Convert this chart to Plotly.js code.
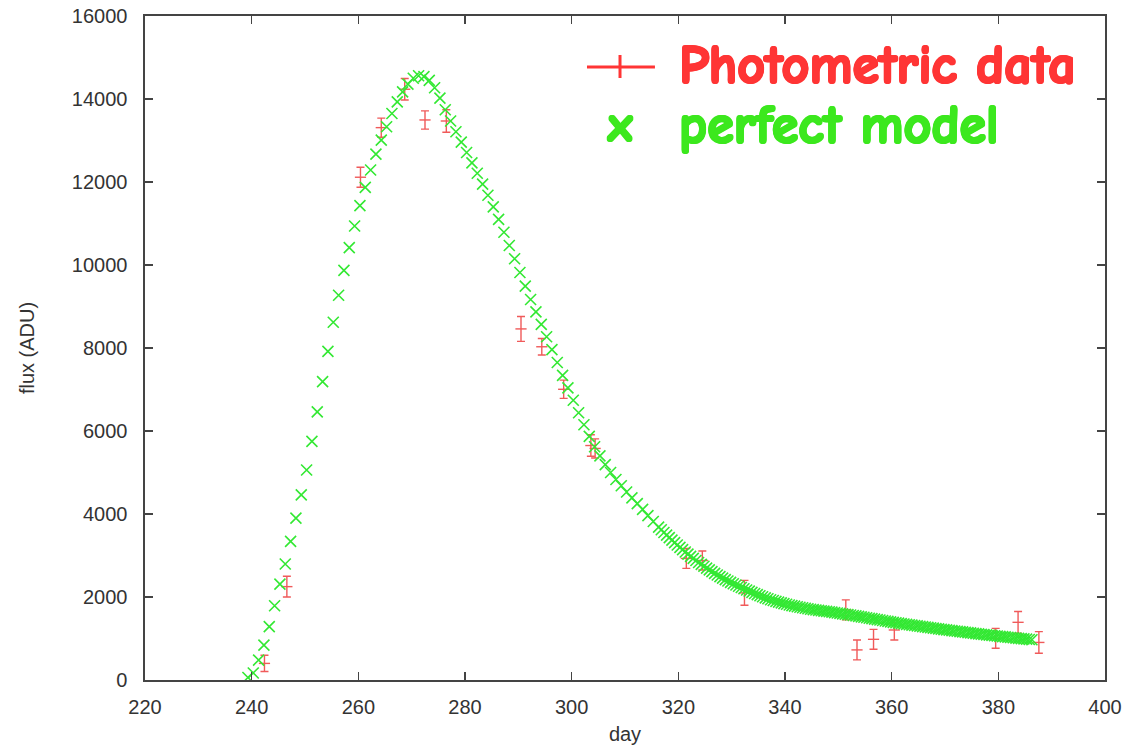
<!DOCTYPE html>
<html>
<head>
<meta charset="utf-8">
<script src="https://cdn.plot.ly/plotly-3.0.1.min.js"></script>
<style>html,body{margin:0;padding:0;background:#fff;}#chart{width:1142px;height:748px;}</style>
</head>
<body>
<div id="chart"></div>
<script>
// Photometric data (day, flux, error)
const dataDay  = [242.4, 246.6, 260.4, 264.3, 268.7, 272.5, 276.5, 290.5, 294.4, 298.5, 303.6, 304.4, 321.5, 324.5, 332.4, 351.4, 353.5, 356.6, 360.5, 379.5, 383.7, 387.6];
const dataFlux = [400, 2250, 12115, 13310, 14235, 13495, 13470, 8460, 8030, 7005, 5650, 5580, 2930, 2880, 2100, 1690, 725, 980, 1205, 1005, 1390, 905];
const dataErr  = [195, 250, 240, 230, 260, 220, 270, 300, 200, 220, 260, 230, 240, 230, 300, 240, 240, 240, 240, 240, 260, 260];

// Perfect model samples
const modelDay = [
239.3,240.3,241.3,242.3,243.3,244.3,245.3,246.3,247.3,248.3,249.3,250.3,251.3,252.3,253.3,254.3,255.3,256.3,257.3,258.3,259.3,
260.3,261.3,262.3,263.3,264.3,265.3,266.3,267.3,268.3,269.3,270.3,271.3,272.3,273.3,274.3,275.3,276.3,277.3,278.3,279.3,
280.3,281.3,282.3,283.3,284.3,285.3,286.3,287.3,288.3,289.3,290.3,291.3,292.3,293.3,294.3,295.3,296.3,297.3,298.3,299.3,
300.3,301.3,302.3,303.3,304.3,305.3,306.3,307.3,308.3,309.3,310.3,311.3,312.3,313.3,314.3,315.3,
316.3,316.8,317.3,317.8,318.3,318.8,319.3,319.8,320.3,320.8,321.3,321.8,322.3,322.8,323.3,323.8,324.3,324.8,325.3,325.8,
326.3,326.8,327.3,327.8,328.3,328.8,329.3,329.8,330.3,330.8,331.3,331.8,332.3,332.8,333.3,333.8,334.3,334.8,335.3,335.8,
336.3,336.8,337.3,337.8,338.3,338.8,339.3,339.8,340.3,340.8,341.3,341.8,342.3,342.8,343.3,343.8,344.3,344.8,345.3,345.8,
346.3,346.8,347.3,347.8,348.3,348.8,349.3,349.8,350.3,350.8,351.3,351.8,352.3,352.8,353.3,353.8,354.3,354.8,355.3,355.8,
356.3,356.8,357.3,357.8,358.3,358.8,359.3,359.8,360.3,360.8,361.3,361.8,362.3,362.8,363.3,363.8,364.3,364.8,365.3,365.8,
366.3,366.8,367.3,367.8,368.3,368.8,369.3,369.8,370.3,370.8,371.3,371.8,372.3,372.8,373.3,373.8,374.3,374.8,375.3,375.8,
376.3,376.8,377.3,377.8,378.3,378.8,379.3,379.8,380.3,380.8,381.3,381.8,382.3,382.8,383.3,383.8,384.3,384.8,385.3,385.8,
386.3];
const modelFlux = [
60,170,480,840,1285,1790,2310,2795,3340,3900,4460,5060,5750,6460,7190,7920,8620,9270,9870,10420,10940,
11430,11870,12290,12670,13010,13330,13650,13930,14170,14360,14500,14560,14540,14450,14270,14020,13740,13470,13210,12960,
12710,12460,12210,11950,11680,11400,11100,10790,10470,10150,9820,9490,9170,8870,8570,8270,7960,7650,7340,7040,
6740,6440,6150,5870,5620,5400,5190,5000,4830,4680,4530,4390,4250,4110,3960,3820,
3685,3620,3555,3492,3430,3370,3310,3252,3195,3140,3085,3032,2980,2930,2880,2832,2785,2740,2695,2652,
2610,2570,2530,2492,2455,2420,2385,2352,2320,2289,2258,2228,2198,2169,2140,2112,2084,2057,2030,2005,
1980,1957,1935,1915,1895,1876,1858,1841,1824,1808,1793,1779,1765,1752,1740,1728,1717,1706,1696,1686,
1677,1668,1659,1652,1645,1635,1625,1615,1605,1595,1585,1575,1565,1554,1544,1533,1522,1511,1500,1489,
1478,1467,1456,1445,1434,1423,1412,1401,1390,1380,1370,1360,1350,1340,1331,1321,1312,1303,1294,1285,
1276,1267,1258,1250,1241,1232,1224,1215,1207,1199,1190,1182,1174,1166,1158,1150,1142,1134,1126,1119,
1111,1103,1096,1088,1081,1074,1066,1059,1052,1045,1038,1031,1024,1017,1010,1004,997,990,984,977,
970];

const xTicks = [220, 240, 260, 280, 300, 320, 340, 360, 380, 400];
const yTicks = [0, 2000, 4000, 6000, 8000, 10000, 12000, 14000, 16000];
const legendLabels = ['Photometric data', 'perfect model'];

const redBar = '#f05a5a';
const green = '#33e833';
const legendRed = '#ff3535';
const legendGreen = '#3ce81e';
const frame = '#444444';

function fauxBold(c) {
  return '1px 0 0 ' + c + ', -1px 0 0 ' + c + ', 0 1px 0 ' + c + ', 0 -1px 0 ' + c +
         ', 1px 1px 0 ' + c + ', -1px -1px 0 ' + c + ', 1px -1px 0 ' + c + ', -1px 1px 0 ' + c;
}

const traces = [
  {
    x: dataDay, y: dataFlux, type: 'scatter', mode: 'markers', name: legendLabels[0],
    marker: {symbol: 'line-ew', size: 8, color: redBar, line: {width: 1.4, color: redBar}},
    error_y: {type: 'data', array: dataErr, visible: true, color: redBar, thickness: 1.4, width: 4},
    showlegend: false
  },
  {
    x: modelDay, y: modelFlux, type: 'scatter', mode: 'markers', name: legendLabels[1],
    marker: {symbol: 'x-thin', size: 11, color: green, line: {width: 1.6, color: green}},
    showlegend: false
  }
];

const axisCommon = {
  showline: true, linecolor: frame, linewidth: 1.6, mirror: 'ticks',
  ticks: 'inside', ticklen: 8, tickwidth: 1.6, tickcolor: frame,
  showgrid: false, zeroline: false,
  tickfont: {family: 'Liberation Sans, Arial, sans-serif', size: 20, color: '#333333'},
  fixedrange: true
};

const legendFamily = "'Comic Sans MS', 'Comic Neue', Lato, sans-serif";

const layout = {
  width: 1142, height: 748,
  margin: {l: 145, r: 37, t: 16, b: 68},
  paper_bgcolor: '#ffffff', plot_bgcolor: '#ffffff',
  showlegend: false,
  xaxis: Object.assign({}, axisCommon, {
    range: [220, 400], tickvals: xTicks, ticktext: xTicks.map(String),
    ticklabelstandoff: 8,
    title: {text: 'day', font: {family: 'Liberation Sans, Arial, sans-serif', size: 20, color: '#333333'}, standoff: 10}
  }),
  yaxis: Object.assign({}, axisCommon, {
    range: [0, 16000], tickvals: yTicks, ticktext: yTicks.map(String),
    ticklabelstandoff: 12,
    title: {text: 'flux (ADU)', font: {family: 'Liberation Sans, Arial, sans-serif', size: 20, color: '#333333'}, standoff: 32}
  }),
  shapes: [
    {type: 'line', xref: 'paper', yref: 'paper', x0: 0.4604, x1: 0.5312, y0: 0.9232, y1: 0.9232, line: {color: legendRed, width: 3}},
    {type: 'line', xref: 'paper', yref: 'paper', x0: 0.4948, x1: 0.4948, y0: 0.9413, y1: 0.9066, line: {color: legendRed, width: 3}}
  ],
  annotations: [
    {xref: 'paper', yref: 'paper', x: 0.5545, y: 0.9262, xanchor: 'left', yanchor: 'middle', showarrow: false,
     text: legendLabels[0], font: {family: legendFamily, size: 54, weight: 'bold', color: legendRed, shadow: fauxBold(legendRed)}},
    {xref: 'paper', yref: 'paper', x: 0.5545, y: 0.8358, xanchor: 'left', yanchor: 'middle', showarrow: false,
     text: legendLabels[1], font: {family: legendFamily, size: 54, weight: 'bold', color: legendGreen, shadow: fauxBold(legendGreen)}},
    {xref: 'paper', yref: 'paper', x: 0.4948, y: 0.8358, xanchor: 'center', yanchor: 'middle', showarrow: false,
     text: 'x', font: {family: legendFamily, size: 50, weight: 'bold', color: legendGreen, shadow: fauxBold(legendGreen)}}
  ]
};

Plotly.newPlot('chart', traces, layout, {displayModeBar: false, staticPlot: true});
</script>
</body>
</html>
